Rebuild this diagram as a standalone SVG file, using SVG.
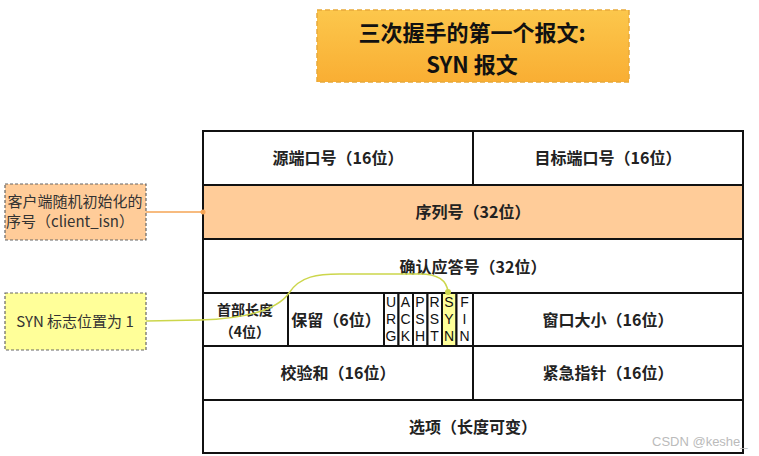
<svg xmlns="http://www.w3.org/2000/svg" width="759" height="456" viewBox="0 0 759 456">
<defs>
<linearGradient id="tg" x1="0" y1="0" x2="0" y2="1">
<stop offset="0" stop-color="#FCC74C"/>
<stop offset="1" stop-color="#F9AE33"/>
</linearGradient>
<style>
.cell{fill:#FFFFFF;stroke:#111;stroke-width:2}
.peach{fill:#FFCC99}
.t{font-family:"Noto Sans CJK SC","Noto Sans",sans-serif;font-size:16px;font-weight:bold;fill:#222;text-anchor:middle}
.s{font-size:14px}
.f{font-family:"Liberation Sans","Noto Sans CJK SC",sans-serif;font-size:14px;fill:#111;text-anchor:middle}
.note{stroke:#666;stroke-width:1.2;stroke-dasharray:3 2}
.n{font-family:"Noto Sans CJK SC","Noto Sans",sans-serif;font-size:15px;fill:#333;text-anchor:middle}
.h{font-family:"Noto Sans CJK SC",sans-serif;font-size:22px;font-weight:bold;fill:#111;text-anchor:middle}
</style>
</defs>
<rect width="759" height="456" fill="#FFFFFF"/>

<g id="title">
<rect x="317" y="10" width="312" height="72" fill="url(#tg)" stroke="#E8A93A" stroke-width="1.5" stroke-dasharray="5 3"/>
<text class="h" x="472" y="41">三次握手的第一个报文:</text>
<text class="h" x="472" y="73">SYN 报文</text>
</g>

<g id="note-isn">
<rect class="note" x="5" y="184" width="141" height="56" fill="#FFCC99"/>
<text class="n" x="75" y="207">客户端随机初始化的</text>
<text class="n" x="70" y="227">序号（client_isn）</text>
</g>

<g id="note-syn">
<rect class="note" x="5" y="293" width="141" height="57" fill="#FFFF99"/>
<text class="n" x="75" y="327">SYN 标志位置为 1</text>
</g>

<g id="row1">
<g id="src-port"><rect class="cell" x="203" y="131" width="270" height="54"/><text class="t" x="338" y="164">源端口号（16位）</text></g>
<g id="dst-port"><rect class="cell" x="473" y="131" width="270" height="54"/><text class="t" x="608" y="164">目标端口号（16位）</text></g>
</g>
<g id="seq"><rect class="cell peach" x="203" y="185" width="540" height="54"/><text class="t" x="473" y="218">序列号（32位）</text></g>
<g id="ack"><rect class="cell" x="203" y="239" width="540" height="54"/><text class="t" x="473" y="273">确认应答号（32位）</text></g>
<g id="row4">
<g id="hdr-len"><rect class="cell" x="203" y="293" width="85" height="53"/><text class="t s" x="245" y="315">首部长度</text><text class="t s" x="245" y="337">（4位）</text></g>
<g id="reserved"><rect class="cell" x="288" y="293" width="96" height="53"/><text class="t" x="336" y="326">保留（6位）</text></g>
<g id="flags">
<rect class="cell" x="384" y="293" width="14.5" height="53"/>
<rect class="cell" x="398.5" y="293" width="14.5" height="53"/>
<rect class="cell" x="413" y="293" width="14.5" height="53"/>
<rect class="cell" x="427.5" y="293" width="14.5" height="53"/>
<rect class="cell" x="442" y="293" width="14.5" height="53" style="fill:#FFFF99"/>
<rect class="cell" x="456.5" y="293" width="16.5" height="53"/>
<text class="f" x="391" y="307">U</text><text class="f" x="391" y="324">R</text><text class="f" x="391" y="341">G</text>
<text class="f" x="405.5" y="307">A</text><text class="f" x="405.5" y="324">C</text><text class="f" x="405.5" y="341">K</text>
<text class="f" x="420" y="307">P</text><text class="f" x="420" y="324">S</text><text class="f" x="420" y="341">H</text>
<text class="f" x="434.5" y="307">R</text><text class="f" x="434.5" y="324">S</text><text class="f" x="434.5" y="341">T</text>
<text class="f" x="449" y="307">S</text><text class="f" x="449" y="324">Y</text><text class="f" x="449" y="341">N</text>
<text class="f" x="464.5" y="307">F</text><text class="f" x="464.5" y="324">I</text><text class="f" x="464.5" y="341">N</text>
</g>
<g id="window"><rect class="cell" x="473" y="293" width="270" height="53"/><text class="t" x="608" y="326">窗口大小（16位）</text></g>
</g>
<g id="row5">
<g id="checksum"><rect class="cell" x="203" y="346" width="270" height="54"/><text class="t" x="338" y="379">校验和（16位）</text></g>
<g id="urgent"><rect class="cell" x="473" y="346" width="270" height="54"/><text class="t" x="608" y="379">紧急指针（16位）</text></g>
</g>
<g id="options"><rect class="cell" x="203" y="400" width="540" height="53"/><text class="t" x="473" y="433">选项（长度可变）</text></g>

<g id="connectors" fill="none">
<path d="M146,212 L203,212" stroke="#F5A455" stroke-width="1.5"/>
<circle cx="203" cy="212" r="2.5" fill="#F5A455"/>
<path d="M146,321 L200,320 C258,318 280,306 289,293 C300,276 318,274 340,274 L420,274 C440,274 447,282 448,292" stroke="#CCD64B" stroke-width="1.5"/>
<circle cx="448" cy="292" r="3" fill="#CCD64B"/>
</g>

<text x="652" y="446" font-family="'Liberation Sans',sans-serif" font-size="13" fill="#BBBBBB">CSDN @keshe_</text>
</svg>
